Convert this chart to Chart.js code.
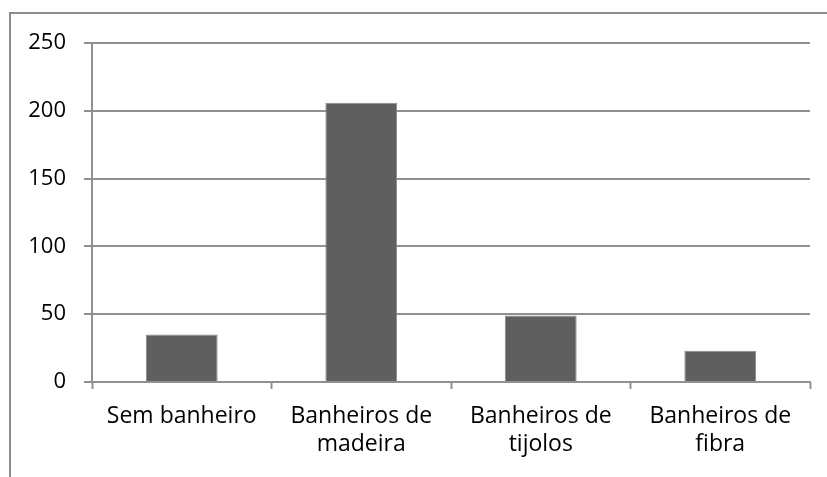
<!DOCTYPE html>
<html>
<head>
<meta charset="utf-8">
<script src="https://cdn.jsdelivr.net/npm/chart.js@4/dist/chart.umd.min.js"></script>
<style>
  html, body { margin: 0; padding: 0; background: #fff; }
  #wrap { position: relative; width: 827px; height: 477px; }
</style>
</head>
<body>
<div id="wrap"><canvas id="c" width="827" height="477"></canvas></div>
<script>
// Bathroom types (each label split into its display lines)
const categories = [
  ['Sem banheiro'],
  ['Banheiros de', 'madeira'],
  ['Banheiros de', 'tijolos'],
  ['Banheiros de', 'fibra']
];
const counts = [35, 206, 49, 23];
const yMin = 0;
const yMax = 250;
const yStep = 50;

const gridColor = '#909090';
const barColor = '#5f5f5f';
const fontFamily = '"Open Sans", "Noto Sans", sans-serif';

// Light frame around the chart, cut by the window on the right and bottom
const framePlugin = {
  id: 'frame',
  beforeDraw(chart) {
    const ctx = chart.ctx;
    ctx.save();
    ctx.fillStyle = '#fff';
    ctx.fillRect(0, 0, chart.width, chart.height);
    ctx.strokeStyle = '#8c8c8c';
    ctx.lineWidth = 2;
    ctx.beginPath();
    ctx.moveTo(10, chart.height + 5);
    ctx.lineTo(10, 13);
    ctx.lineTo(chart.width + 5, 13);
    ctx.stroke();
    ctx.restore();
  }
};

new Chart(document.getElementById('c'), {
  type: 'bar',
  data: {
    labels: categories,
    datasets: [{
      data: counts,
      backgroundColor: barColor,
      borderColor: '#8a8a8a',
      borderWidth: 1,
      categoryPercentage: 1,
      barPercentage: 0.4
    }]
  },
  options: {
    responsive: false,
    animation: false,
    devicePixelRatio: 1,
    layout: { padding: { top: 43, right: 17, bottom: 0, left: 0 } },
    plugins: { legend: { display: false }, tooltip: { enabled: false } },
    scales: {
      x: {
        offset: true,
        afterFit(s) { s.height = 95; },
        grid: {
          offset: true,
          drawOnChartArea: false,
          drawTicks: true,
          tickLength: 7,
          tickWidth: 2,
          tickColor: gridColor
        },
        border: { display: true, color: gridColor, width: 2 },
        ticks: {
          color: '#000',
          maxRotation: 0,
          autoSkip: false,
          padding: 14,
          font: { family: fontFamily, size: 23, lineHeight: 1.2 }
        }
      },
      y: {
        min: yMin,
        max: yMax,
        afterFit(s) { s.width = 92; },
        grid: {
          color: gridColor,
          lineWidth: 2,
          drawTicks: true,
          tickLength: 8,
          tickColor: gridColor
        },
        border: { display: true, color: gridColor, width: 2 },
        ticks: {
          stepSize: yStep,
          color: '#000',
          padding: 18,
          font: { family: fontFamily, size: 22 }
        }
      }
    }
  },
  plugins: [framePlugin]
});
</script>
</body>
</html>
